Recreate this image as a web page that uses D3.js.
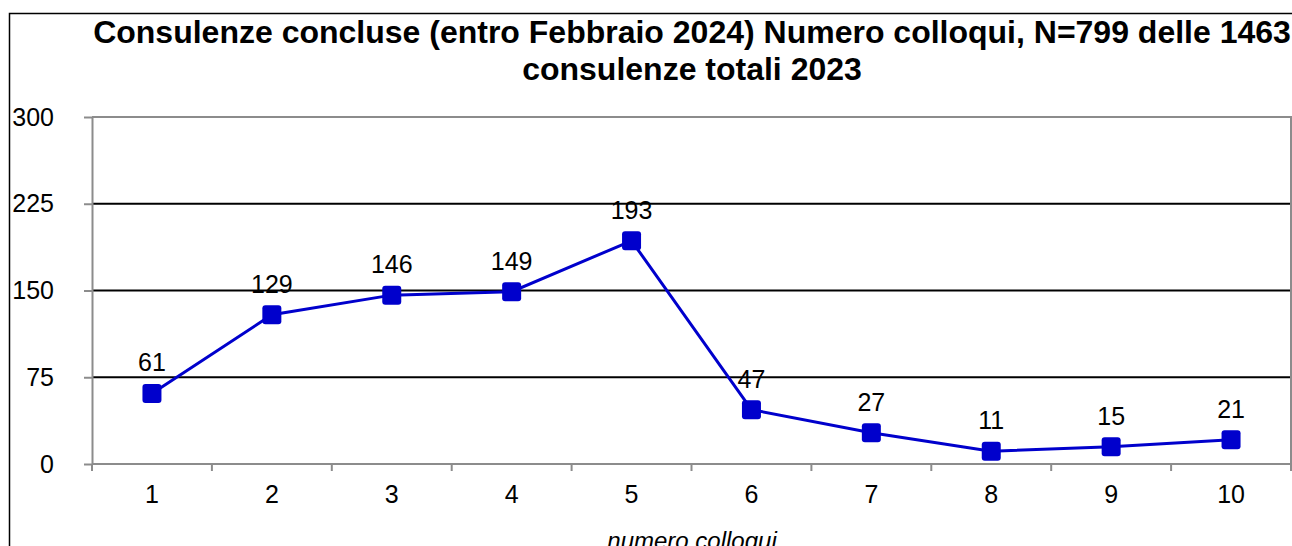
<!DOCTYPE html>
<html>
<head>
<meta charset="utf-8">
<script src="https://cdn.jsdelivr.net/npm/d3@7"></script>
<style>
  body { margin: 0; background: #fff; }
  svg { display: block; font-family: "Liberation Sans", Arial, sans-serif; }
</style>
</head>
<body>
<div id="wrapper"></div>
<script>
const categories = ["1", "2", "3", "4", "5", "6", "7", "8", "9", "10"];
const values = [61, 129, 146, 149, 193, 47, 27, 11, 15, 21];
const yTicks = [0, 75, 150, 225, 300];
const titleLines = [
    "Consulenze concluse (entro Febbraio 2024) Numero colloqui, N=799 delle 1463",
    "consulenze totali 2023"
];
const xTitle = "numero colloqui";

function build() {
    var dimension = {
        width: 1292,
        height: 546,
        margin: { top: 117, right: 1, bottom: 82, left: 92 }
    };
    dimension.boundedWidth = dimension.width - dimension.margin.left - dimension.margin.right;
    dimension.boundedHeight = dimension.height - dimension.margin.top - dimension.margin.bottom;

    const wrapper = d3.select("#wrapper")
        .append("svg")
        .attr("width", dimension.width)
        .attr("height", dimension.height);

    // outer chart border
    wrapper.append("rect")
        .attr("x", 9.5)
        .attr("y", 13.5)
        .attr("width", dimension.width)
        .attr("height", dimension.height)
        .attr("fill", "none")
        .attr("stroke", "#000")
        .attr("stroke-width", 1.5);

    // title
    wrapper.append("g")
        .selectAll("text")
        .data(titleLines)
        .enter()
        .append("text")
        .attr("x", 692)
        .attr("y", (d, i) => 43 + i * 37)
        .attr("text-anchor", "middle")
        .style("font-size", "32px")
        .style("font-weight", "bold")
        .text(d => d);

    const bounds = wrapper.append("g")
        .attr("transform", `translate(${dimension.margin.left},${dimension.margin.top})`);

    const x = d3.scaleBand()
        .domain(categories)
        .range([0, dimension.boundedWidth]);

    const y = d3.scaleLinear()
        .domain([0, 300])
        .range([dimension.boundedHeight, 0]);

    // gridlines
    bounds.selectAll(".grid")
        .data(yTicks.filter(d => d > 0 && d < 300))
        .enter()
        .append("line")
        .attr("class", "grid")
        .attr("x1", 0)
        .attr("x2", dimension.boundedWidth)
        .attr("y1", d => y(d))
        .attr("y2", d => y(d))
        .attr("stroke", "#000")
        .attr("stroke-width", 2);

    // plot frame top / right
    bounds.append("path")
        .attr("d", `M0,${y(300)}H${dimension.boundedWidth}V${dimension.boundedHeight}`)
        .attr("fill", "none")
        .attr("stroke", "#8c8c8c")
        .attr("stroke-width", 2);

    // y axis
    const yAxis = bounds.append("g")
        .call(d3.axisLeft(y).tickValues(yTicks).tickSize(8).tickPadding(30).tickSizeOuter(0));
    yAxis.select(".domain").attr("stroke", "#8c8c8c").attr("stroke-width", 2);
    yAxis.selectAll(".tick line").attr("stroke", "#8c8c8c").attr("stroke-width", 2);
    yAxis.selectAll(".tick text")
        .attr("fill", "#000")
        .style("font-size", "25px")
        .style("font-family", "Liberation Sans, Arial, sans-serif");

    // x axis, ticks between categories
    const xAxisG = bounds.append("g")
        .attr("transform", `translate(0,${dimension.boundedHeight})`);
    xAxisG.append("line")
        .attr("x1", 0)
        .attr("x2", dimension.boundedWidth)
        .attr("stroke", "#8c8c8c")
        .attr("stroke-width", 2);
    xAxisG.selectAll(".xtick")
        .data(categories.concat(["end"]))
        .enter()
        .append("line")
        .attr("class", "xtick")
        .attr("x1", (d, i) => i < categories.length ? x(d) : dimension.boundedWidth)
        .attr("x2", (d, i) => i < categories.length ? x(d) : dimension.boundedWidth)
        .attr("y1", 0)
        .attr("y2", 7)
        .attr("stroke", "#8c8c8c")
        .attr("stroke-width", 2);
    xAxisG.selectAll(".xlabel")
        .data(categories)
        .enter()
        .append("text")
        .attr("class", "xlabel")
        .attr("x", d => x(d) + x.bandwidth() / 2)
        .attr("y", 39)
        .attr("text-anchor", "middle")
        .style("font-size", "25px")
        .text(d => d);

    // axis title (cut by the bottom edge, as in the original)
    wrapper.append("text")
        .attr("x", 692)
        .attr("y", 549)
        .attr("text-anchor", "middle")
        .style("font-size", "24px")
        .style("font-style", "italic")
        .text(xTitle);

    const data = categories.map((c, i) => ({ cat: c, value: values[i] }));
    const cx = d => x(d.cat) + x.bandwidth() / 2;

    const line = d3.line()
        .x(cx)
        .y(d => y(d.value));

    bounds.append("path")
        .datum(data)
        .attr("d", line)
        .attr("fill", "none")
        .attr("stroke", "#0000cc")
        .attr("stroke-width", 3);

    bounds.selectAll(".marker")
        .data(data)
        .enter()
        .append("rect")
        .attr("class", "marker")
        .attr("x", d => cx(d) - 9.5)
        .attr("y", d => y(d.value) - 9.5)
        .attr("width", 19)
        .attr("height", 19)
        .attr("rx", 3)
        .attr("fill", "#0000cc");

    bounds.selectAll(".value")
        .data(data)
        .enter()
        .append("text")
        .attr("class", "value")
        .attr("x", cx)
        .attr("y", d => y(d.value) - 22)
        .attr("text-anchor", "middle")
        .style("font-size", "25px")
        .text(d => d.value);
}

build();
</script>
</body>
</html>
